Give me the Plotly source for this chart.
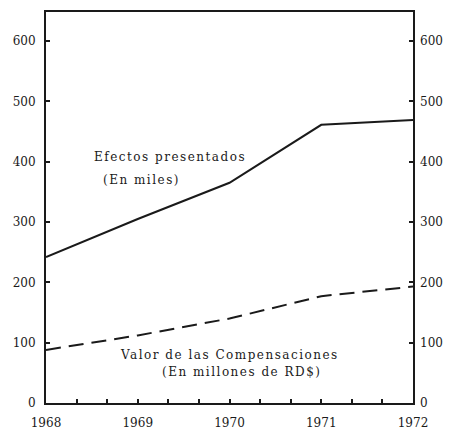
import plotly.graph_objects as go

years = [1968, 1969, 1970, 1971, 1972]
efectos = [242, 305, 365, 461, 469]
compensaciones = [88, 112, 140, 177, 193]
y_ticks = [0, 100, 200, 300, 400, 500, 600]
x_tick_labels = ["1968", "1969", "1970", "1971", "1972"]

FONT = "DejaVu Serif"
INK = "#1a1a1a"

fig = go.Figure()
fig.add_trace(go.Scatter(x=years, y=efectos, mode="lines",
                         line=dict(color=INK, width=2), showlegend=False))
fig.add_trace(go.Scatter(x=years, y=compensaciones, mode="lines",
                         line=dict(color=INK, width=2, dash="15px,8px"),
                         showlegend=False))
fig.add_trace(go.Scatter(x=[years[0]], y=[0], yaxis="y2", mode="markers",
                         marker=dict(opacity=0), showlegend=False, hoverinfo="skip"))

yr = [0, 648]
tf = dict(family=FONT, size=12, color=INK)
fig.update_layout(
    width=450, height=430,
    margin=dict(l=46, r=37, t=12, b=27),
    paper_bgcolor="white", plot_bgcolor="white",
    font=dict(family=FONT, size=12, color=INK),
    xaxis=dict(range=[1968, 1972], tickvals=years, ticktext=x_tick_labels,
               showgrid=False, zeroline=False, showline=True, linecolor=INK,
               linewidth=2, mirror=True, ticks="inside", ticklen=4,
               tickcolor=INK, tickwidth=1.5, ticklabelstandoff=8,
               automargin=False,
               minor=dict(dtick=1/3, ticks="inside", ticklen=4, tickcolor=INK,
                          tickwidth=1.5, showgrid=False),
               tickfont=tf),
    yaxis=dict(range=yr, tickvals=y_ticks, showgrid=False, zeroline=False,
               showline=True, linecolor=INK, linewidth=2, mirror=True,
               ticks="inside", ticklen=4, tickcolor=INK, tickwidth=1.5,
               ticklabelstandoff=6, automargin=False, tickfont=tf),
    yaxis2=dict(range=yr, tickvals=y_ticks, overlaying="y", side="right",
                showgrid=False, zeroline=False, showline=False,
                ticks="inside", ticklen=4, tickcolor=INK, tickwidth=1.5,
                ticklabelstandoff=6, automargin=False, tickfont=tf),
)

annos = [
    ("Efectos presentados", 1968.50, 408),
    ("(En miles)", 1968.60, 370),
    ("Valor de las Compensaciones", 1968.78, 80),
    ("(En millones de RD$)", 1969.24, 51),
]
for text, x, y in annos:
    fig.add_annotation(x=x, y=y,
                       text='<span style="letter-spacing:1.5px">' + text + '</span>',
                       showarrow=False, xanchor="left", yanchor="middle",
                       font=dict(family=FONT, size=12, color=INK))

fig.write_html("out.html", config={"displayModeBar": False},
               post_script="document.body.style.margin='0';document.body.style.overflow='hidden';")
